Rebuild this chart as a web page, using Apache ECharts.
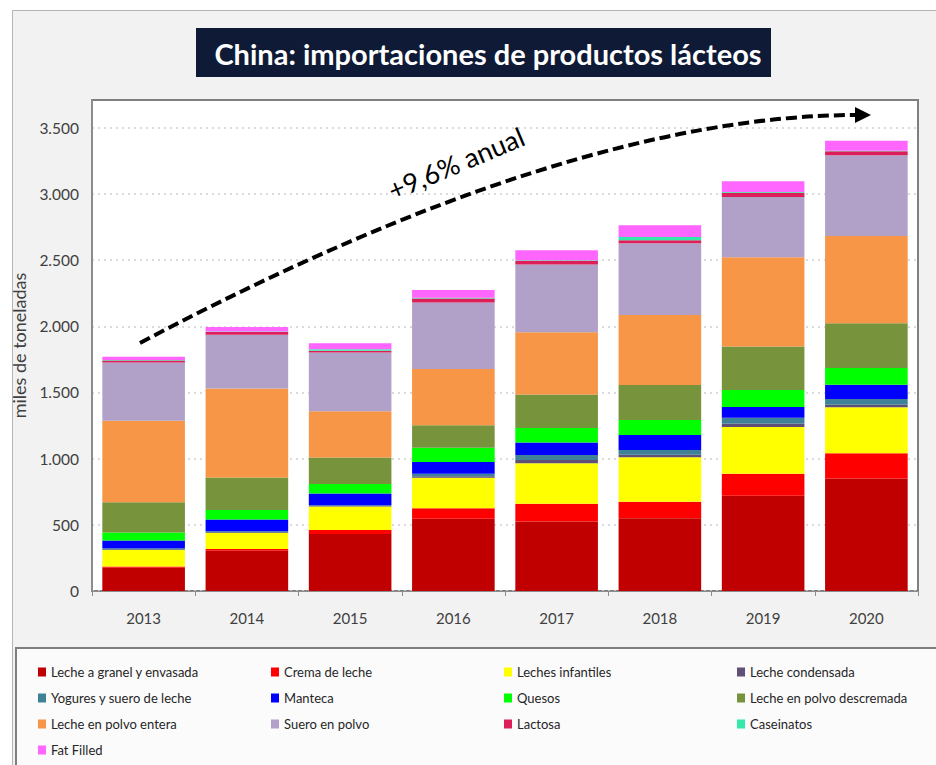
<!DOCTYPE html>
<html>
<head>
<meta charset="utf-8">
<script src="https://cdn.jsdelivr.net/npm/echarts@6/dist/echarts.min.js"></script>
<style>
html,body{margin:0;padding:0;background:#ffffff;}
#chart{width:936px;height:765px;}
</style>
</head>
<body>
<div id="chart"></div>
<script>
// Categories
var years = ['2013','2014','2015','2016','2017','2018','2019','2020'];

// Series values (miles de toneladas), bottom to top of each stack
var lecheGranel      = [175, 305, 430, 545, 525, 549, 720, 850];
var cremaLeche       = [10, 13, 30, 80, 135, 126, 165, 190];
var lechesInfantiles = [125, 120, 178, 230, 305, 336, 355, 348];
var lecheCondensada  = [5, 6, 5, 12, 25, 18, 25, 20];
var yogures          = [8, 8, 5, 18, 38, 37, 45, 43];
var manteca          = [58, 89, 89, 89, 94, 113, 81, 107];
var quesos           = [61, 71, 71, 109, 109, 114, 127, 127];
var polvoDescremada  = [228, 246, 200, 170, 254, 264, 330, 338];
var polvoEntera      = [617, 673, 350, 424, 470, 529, 673, 660];
var sueroPolvo       = [440, 406, 445, 503, 512, 542, 457, 609];
var lactosa          = [15, 20, 12, 30, 28, 22, 32, 30];
var caseinatos       = [3, 3, 12, 5, 5, 25, 5, 5];
var fatFilled        = [25, 35, 45, 60, 75, 88, 82, 75];

// Y axis ticks (axis extends a little above the last tick)
var yTicks = [0, 500, 1000, 1500, 2000, 2500, 3000, 3500];
var yAxisMax = 3710;

var seriesNames = ['Leche a granel y envasada','Crema de leche','Leches infantiles','Leche condensada',
  'Yogures y suero de leche','Manteca','Quesos','Leche en polvo descremada',
  'Leche en polvo entera','Suero en polvo','Lactosa','Caseinatos','Fat Filled'];
var seriesData = [lecheGranel, cremaLeche, lechesInfantiles, lecheCondensada, yogures, manteca, quesos,
  polvoDescremada, polvoEntera, sueroPolvo, lactosa, caseinatos, fatFilled];
var colors = ['#c00000','#ff0000','#ffff00','#5f5078','#3f8298','#0000ff','#00ff00','#77933c',
  '#f79646','#b1a0c7','#dc1f5a','#33e8a8','#ff66ff'];

var FONT = 'Lato, "Open Sans", sans-serif';

function fmt(v){ return String(v).replace(/\B(?=(\d{3})+(?!\d))/g, '.'); }

var series = seriesNames.map(function(n, i){
  return {
    name: n, type: 'bar', stack: 'total', data: seriesData[i],
    barCategoryGap: '20%',
    itemStyle: { color: colors[i] },
    emphasis: { disabled: true }
  };
});

var chart = echarts.init(document.getElementById('chart'), null, {renderer: 'svg'});
chart.setOption({
  animation: false,
  color: colors,
  title: {
    text: 'China: importaciones de productos lácteos',
    left: 483, top: 34, textAlign: 'center',
    textStyle: { color: '#ffffff', fontSize: 29, fontWeight: 'bold', fontFamily: FONT }
  },
  graphic: [
    { type: 'rect', z: -100, silent: true, shape: {x: 12.5, y: 10.5, width: 940, height: 770},
      style: { fill: '#f2f2f2', stroke: '#b4b4b4', lineWidth: 1 } },
    { type: 'rect', z: -90, silent: true, shape: {x: 196, y: 28, width: 575, height: 49},
      style: { fill: '#0e1a36' } },
    { type: 'rect', z: -90, silent: true, shape: {x: 16, y: 648, width: 940, height: 130},
      style: { fill: '#fbfbfb', stroke: '#7f7f7f', lineWidth: 2 } },
    { type: 'bezierCurve', z: 100, silent: true,
      shape: {x1: 140, y1: 343, x2: 858, y2: 115, cpx1: 570, cpy1: 115},
      style: { stroke: '#000', fill: null, lineWidth: 4, lineDash: [11, 5] } },
    { type: 'polygon', z: 100, silent: true,
      shape: { points: [[855, 107], [871, 115], [855, 123]] },
      style: { fill: '#000' } },
    { type: 'text', z: 100, silent: true, x: 456, y: 163, rotation: 0.4,
      style: { text: '+9,6% anual', fontSize: 27, fontFamily: FONT, fill: '#000',
        align: 'center', verticalAlign: 'middle' } }
  ],
  legend: {
    data: seriesNames,
    left: 33, top: 654, width: 940,
    orient: 'horizontal',
    itemWidth: 8, itemHeight: 9, itemGap: 0,
    icon: 'rect',
    selectedMode: false,
    textStyle: { fontSize: 13, color: '#262626', fontFamily: FONT, width: 220, lineHeight: 26, height: 26 }
  },
  grid: {
    left: 92, right: 18, top: 100, bottom: 174,
    show: true, backgroundColor: '#ffffff', borderColor: '#7f7f7f', borderWidth: 2
  },
  xAxis: {
    type: 'category', data: years,
    axisLine: { show: true, lineStyle: { color: '#8c8c8c', width: 1 } },
    axisTick: { show: true, length: 5, lineStyle: { color: '#8c8c8c' } },
    axisLabel: { fontSize: 15, color: '#404040', fontFamily: FONT, margin: 19 }
  },
  yAxis: {
    type: 'value', min: yTicks[0], max: yAxisMax, interval: yTicks[1] - yTicks[0],
    name: 'miles de toneladas', nameLocation: 'middle', nameGap: 62, nameRotate: 90,
    nameTextStyle: { fontSize: 18, color: '#404040', fontFamily: FONT },
    axisLine: { show: true, lineStyle: { color: '#8c8c8c', width: 2 } },
    axisTick: { show: false },
    axisLabel: { fontSize: 15.5, color: '#404040', fontFamily: FONT, margin: 13, formatter: fmt,
      showMaxLabel: false },
    splitLine: { show: true, showMaxLine: false, lineStyle: { color: '#cfcfcf', type: [2, 4], width: 1.5 } }
  },
  series: series
});
</script>
</body>
</html>
